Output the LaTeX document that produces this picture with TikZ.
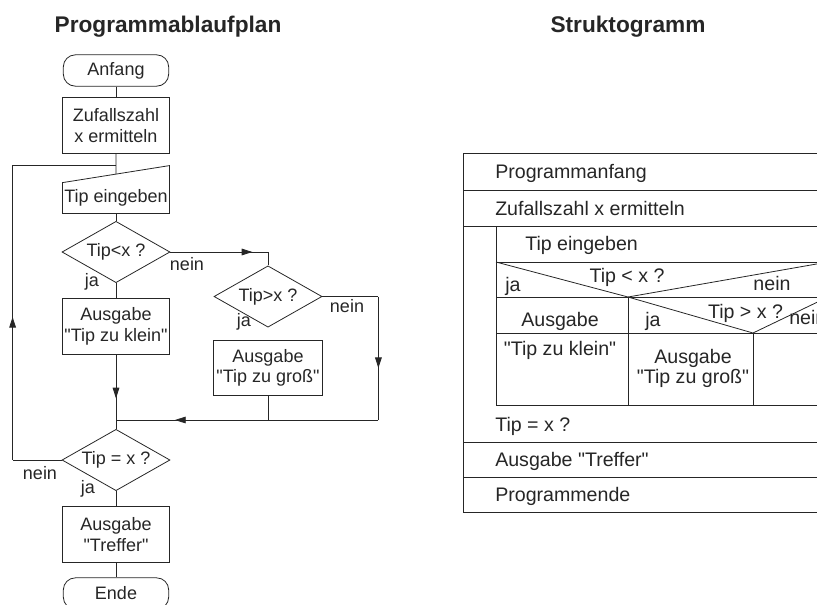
\documentclass[tikz,border=0pt]{standalone}
\usepackage{fontspec}
\setmainfont{Liberation Sans}[Ligatures=TeXOff]
\usetikzlibrary{arrows.meta}
\usetikzlibrary{positioning}
\usetikzlibrary{shapes.geometric}
\usetikzlibrary{decorations.markings}
\usetikzlibrary{calc}
\colorlet{ink}{black!85}

\tikzset{
  boxbase/.style={draw=ink, text=ink, line width=0.6pt, font=\fontsize{13.5}{15.5}\selectfont, align=center},
  term/.style={boxbase, rectangle, rounded corners=9pt, minimum width=79pt, minimum height=23.5pt, inner sep=1pt},
  proc/.style={boxbase, rectangle, minimum width=80.5pt, minimum height=41.5pt, inner sep=1pt},
  dec/.style={boxbase, diamond, aspect=2, minimum width=81pt, minimum height=46pt, inner sep=0pt},
  inbox/.style={boxbase, draw=none, minimum width=79.5pt, minimum height=22.5pt, inner sep=1pt},
  lbl/.style={text=ink, font=\fontsize{13.5}{15.5}\selectfont, inner sep=0pt, text height=9.7pt, text depth=0pt},
  heading/.style={text=ink, font=\fontsize{17}{20}\selectfont\bfseries, inner sep=0pt, text height=12.2pt, text depth=0pt},
  sg/.style={text=ink, font=\fontsize{14.7}{17.5}\selectfont, inner sep=0pt, text height=10.5pt, text depth=0pt},
  sgbox/.style={text=ink, font=\fontsize{14.7}{15}\selectfont, inner sep=0pt, align=center},
  wire/.style={draw=ink, line width=0.6pt},
  flow/.style={wire, postaction={decorate, decoration={markings, mark=at position #1 with {\arrow{Triangle[length=8pt,width=5pt]}}}}},
}

\begin{document}
\begin{tikzpicture}[x=0.75pt, y=-0.75pt]
  \useasboundingbox (0,0) rectangle (817,604);
  \clip (0,0) rectangle (817,604);

  % ---------- Titles ----------
  \node[heading] at (168,24) (T1) {Programmablaufplan};
  \node[heading] at (628,24) (T2) {Struktogramm};

  % ---------- Left side (Programmablaufplan) ----------

  % Shapes
  \node[term] at (116,70.5) (anf) {Anfang};
  \node[proc] at (116,125.5) (zuf) {Zufallszahl\\x ermitteln};
  \node[inbox] at (116,198) (tip) {Tip eingeben};
  \draw[wire] (tip.north west) -- (tip.south west) -- (tip.south east) -- ([yshift=12.75pt]tip.north east) -- cycle;
  \node[dec] at (116,252) (d1) {Tip<x ?};
  \node[proc] at (116,326.5) (kl) {Ausgabe\\"Tip zu klein"};
  \node[dec] at (268,296.5) (d2) {Tip>x ?};
  \node[proc, minimum width=81.5pt] at (268,368) (gr) {Ausgabe\\"Tip zu groß"};
  \node[dec] at (116,460) (d3) {Tip = x ?};
  \node[proc] at (116,534.5) (tr) {Ausgabe\\"Treffer"};
  \node[term] at (116,593.5) (ende) {Ende};

  % Points
  \coordinate (tiptop) at ($(tip.north west)!0.5!([yshift=12.75pt]tip.north east)$);
  \coordinate (j1) at (116,165);
  \coordinate (j2) at (116,420);
  \coordinate (c1) at (d1.east -| d2.north);
  \coordinate (c2) at ($(d2.east)+(56,0)$);
  \coordinate (c3) at (c2 |- j2);
  \coordinate (c4) at ($(d3.west)+(-49,0)$);
  \coordinate (c5) at (c4 |- j1);

  % Lines
  \draw[wire] (anf) -- (zuf);
  \draw[wire] (zuf) -- (tiptop);
  \draw[wire] (tip) -- (d1);
  \draw[wire] (d1) -- (kl);
  \draw[flow=0.84] (d1.east) -- (c1);
  \draw[wire] (c1) -- (d2);
  \draw[wire] (d2.east) -- (c2);
  \draw[flow=0.58] (c2) -- (c3);
  \draw[flow=0.775] (c3) -- (j2);
  \draw[wire] (gr) -- (gr |- j2);
  \draw[flow=0.67] (kl) -- (j2);
  \draw[wire] (j2) -- (d3);
  \draw[wire] (d3.west) -- (c4);
  \draw[flow=0.485] (c4) -- (c5);
  \draw[wire] (c5) -- (j1);
  \draw[wire] (d3) -- (tr);
  \draw[wire] (tr) -- (ende);

  % Labels
  \node[lbl] at (92,280) (ja1) {ja};
  \node[lbl] at (187,264.5) (nein1) {nein};
  \node[lbl] at (244,320.5) (ja2) {ja};
  \node[lbl] at (347,306.5) (nein2) {nein};
  \node[lbl] at (40,473.5) (nein3) {nein};
  \node[lbl] at (88,487.5) (ja3) {ja};

  % ---------- Right side (Struktogramm) ----------

  % Shapes
  \draw[wire] (463,153) rectangle (828,512);
  \draw[wire] (463,190) -- (828,190);
  \draw[wire] (463,226) -- (828,226);
  \draw[wire] (496,226) -- (496,405);
  \draw[wire] (496,262) -- (828,262);
  \draw[wire] (496,297) -- (828,297);
  \draw[wire] (496,333) -- (828,333);
  \draw[wire] (496,405) -- (828,405);
  \draw[wire] (463,442) -- (828,442);
  \draw[wire] (463,477) -- (828,477);
  \draw[wire] (628,297) -- (628,405);
  \draw[wire] (753,333) -- (753,405);
  \draw[wire] (496,262) -- (628,297) -- (828,262);
  \draw[wire] (628,297) -- (753,333) -- (828,297);

  % Labels
  \node[sg, anchor=west] at (495,171) (s1) {Programmanfang};
  \node[sg, anchor=west] at (495,208) (s2) {Zufallszahl x ermitteln};
  \node[sg, anchor=west] at (525,243.5) (s3) {Tip eingeben};
  \node[sg, anchor=west] at (505,284) (s4) {ja};
  \node[sg] at (627,275) (s5) {Tip < x ?};
  \node[sg] at (772,283.5) (s6) {nein};
  \node[sg] at (560,319.5) (s7) {Ausgabe};
  \node[sg, anchor=west] at (645,319.5) (s8) {ja};
  \node[sg] at (745.5,311.5) (s9) {Tip > x ?};
  \node[sg, anchor=west] at (789,317) (s10) {nein};
  \node[sg] at (560,348) (s11) {"Tip zu klein"};
  \node[sgbox] at (693,368) (s12) {Ausgabe\\"Tip zu groß"};
  \node[sg, anchor=west] at (495,424) (s13) {Tip = x ?};
  \node[sg, anchor=west] at (495,459) (s14) {Ausgabe "Treffer"};
  \node[sg, anchor=west] at (495,494) (s15) {Programmende};
\end{tikzpicture}
\end{document}
